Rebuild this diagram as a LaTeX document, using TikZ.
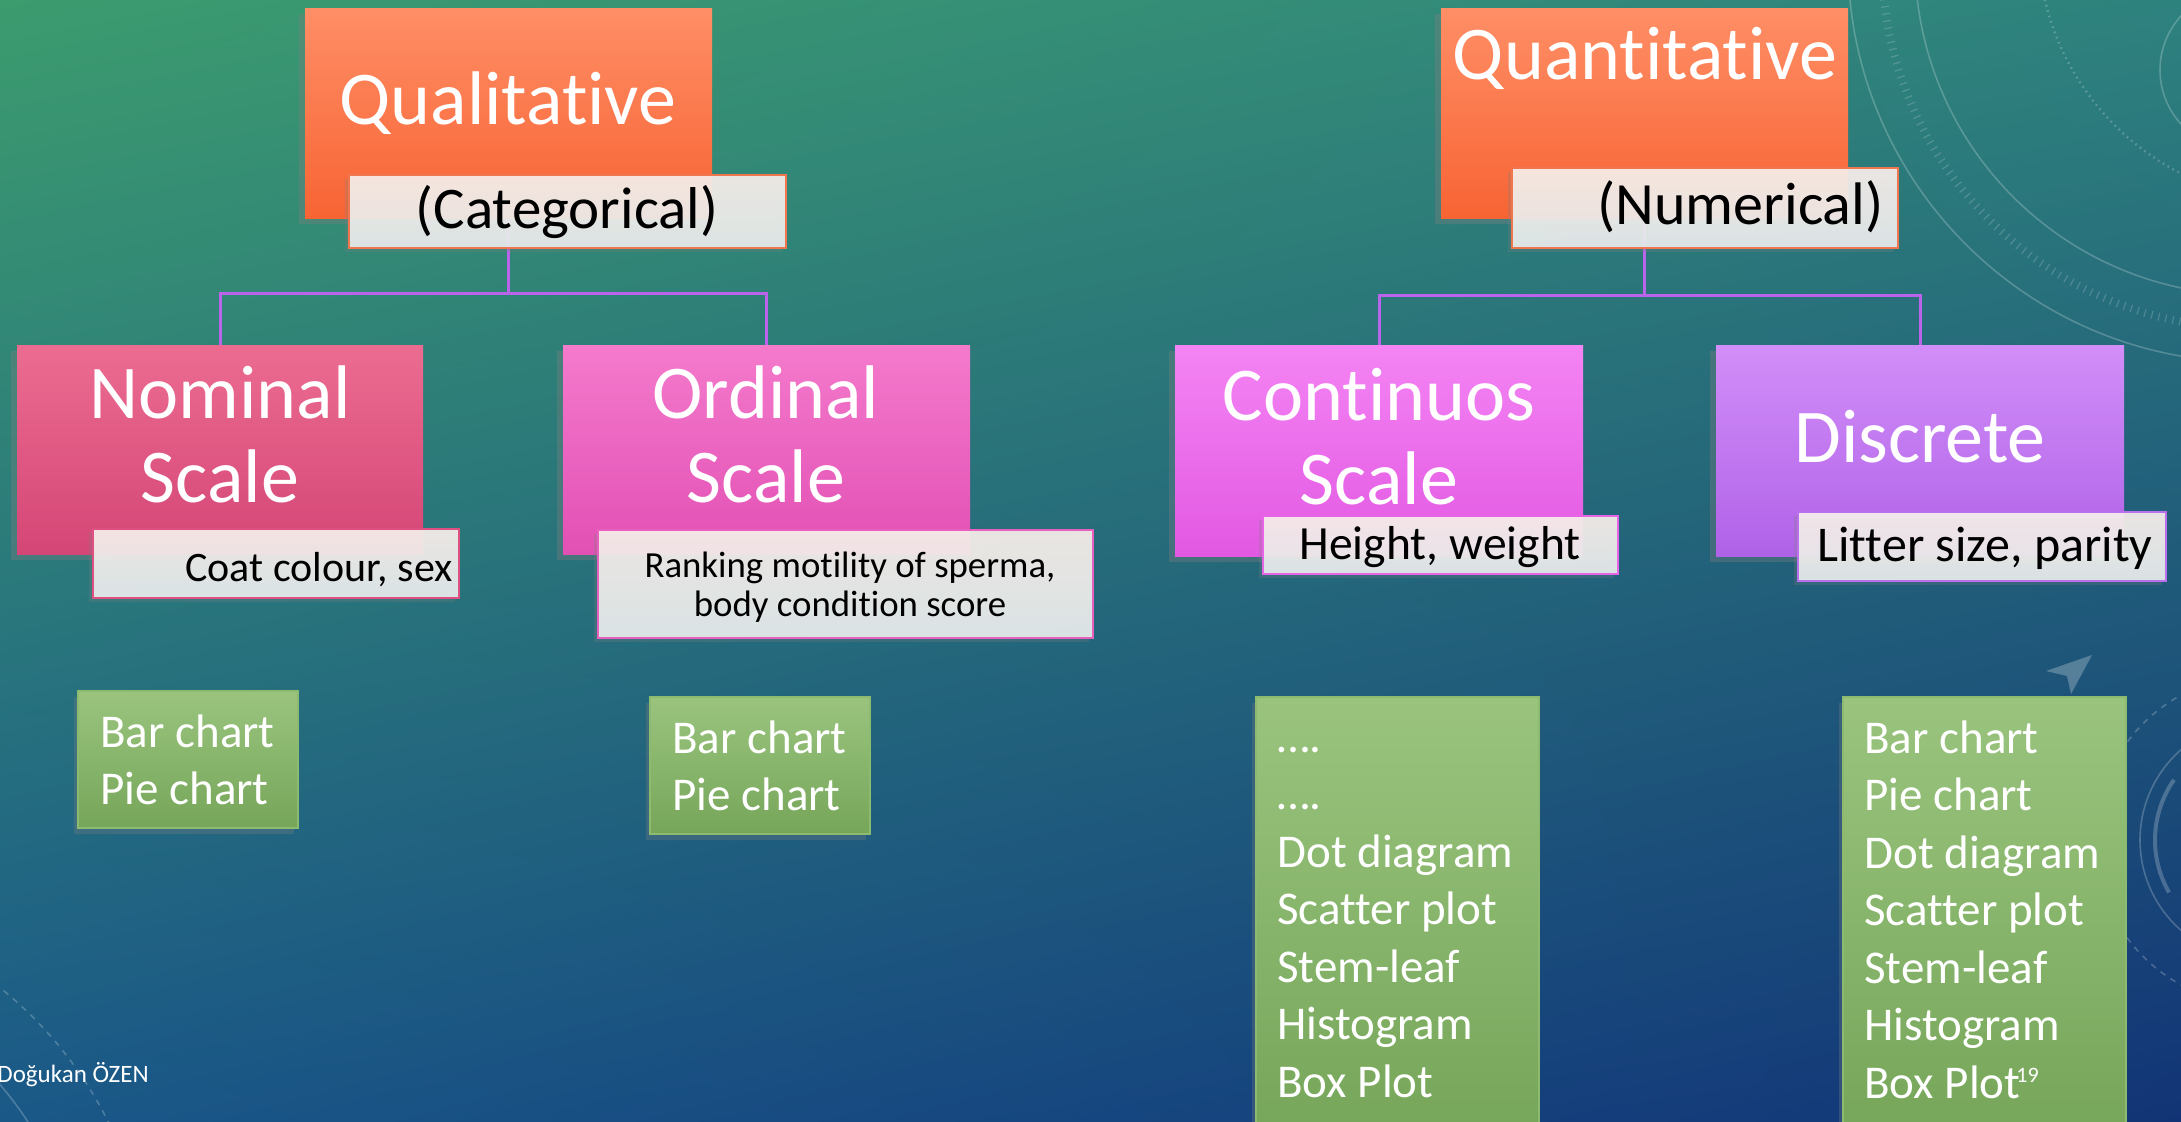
\documentclass[tikz,border=0pt]{standalone}
\usepackage{fontspec}
\setmainfont{Carlito}[Ligatures=NoCommon]
\usetikzlibrary{shadows,fit,shadings}
\pgfdeclarelayer{bg}
\pgfsetlayers{bg,main}
\definecolor{bgTL}{RGB}{60,156,110}
\definecolor{bgTR}{RGB}{46,130,126}
\definecolor{bgBL}{RGB}{26,88,136}
\definecolor{bgBR}{RGB}{18,52,118}
\definecolor{orTop}{RGB}{255,142,102}
\definecolor{orBot}{RGB}{247,100,52}
\definecolor{orLine}{RGB}{240,118,78}
\definecolor{nomTop}{RGB}{236,108,145}
\definecolor{nomBot}{RGB}{212,70,118}
\definecolor{nomLine}{RGB}{222,80,130}
\definecolor{ordTop}{RGB}{244,122,204}
\definecolor{ordBot}{RGB}{226,80,180}
\definecolor{ordLine}{RGB}{232,96,190}
\definecolor{conTop}{RGB}{244,132,244}
\definecolor{conBot}{RGB}{226,88,226}
\definecolor{conLine}{RGB}{230,100,230}
\definecolor{disTop}{RGB}{210,142,248}
\definecolor{disBot}{RGB}{176,98,232}
\definecolor{disLine}{RGB}{186,112,236}
\definecolor{grTop}{RGB}{154,196,126}
\definecolor{grBot}{RGB}{118,166,90}
\definecolor{grLine}{RGB}{140,186,110}
\definecolor{subTop}{RGB}{247,238,234}
\definecolor{subBot}{RGB}{231,236,236}
\definecolor{connC}{RGB}{185,100,235}
\begin{document}
\begin{tikzpicture}[x=0.5pt,y=-0.5pt,
  mainbox/.style={inner sep=0pt, outer sep=0pt,
     drop shadow={shadow xshift=-3pt,shadow yshift=-3pt,opacity=0.35}},
  subbox/.style={inner sep=0pt, outer sep=0pt, line width=1pt,
     top color=subTop, bottom color=subBot, fill opacity=0.93,
     drop shadow={shadow xshift=-2pt,shadow yshift=-2pt,opacity=0.25}},
  greenbox/.style={inner sep=0pt, outer sep=0pt, draw=grLine, line width=0.8pt,
     top color=grTop, bottom color=grBot,
     drop shadow={shadow xshift=-2pt,shadow yshift=-3pt,opacity=0.3}},
  conn/.style={draw=connC, line width=1.5pt},
  deco/.style={draw=white, opacity=0.22, line width=0.8pt},
  bigtxt/.style={text=white, inner sep=0pt, anchor=base,
     font=\fontsize{38}{42}\selectfont},
  midtxt/.style={text=black, inner sep=0pt, anchor=base,
     font=\fontsize{29.5}{34}\selectfont},
  listtxt/.style={text=white, inner sep=0pt, anchor=base west,
     font=\fontsize{23.5}{28.75}\selectfont},
  subtxt/.style={text=black, inner sep=0pt, anchor=base}
]
\useasboundingbox (0,0) rectangle (2181,1121);

% boxes
\node[mainbox, top color=orTop, bottom color=orBot, fit={(305,8) (712,218)}] (qual) {};
\node[subbox, draw=orLine, fit={(349,175) (786,248)}] (cat) {};
\node[mainbox, top color=nomTop, bottom color=nomBot, fit={(17,345) (423,554)}] (nom) {};
\node[subbox, draw=nomLine, fit={(93,529) (459,598)}] (coat) {};
\node[mainbox, top color=ordTop, bottom color=ordBot, fit={(563,345) (970,554)}] (ord) {};
\node[subbox, draw=ordLine, fit={(598,530) (1093,638)}] (rank) {};
\node[greenbox, fit={(78,691) (298,828)}] (g1) {};
\node[greenbox, fit={(650,697) (870,834)}] (g2) {};

\node[mainbox, top color=orTop, bottom color=orBot, fit={(1441,8) (1848,218)}] (quant) {};
\node[subbox, draw=orLine, fit={(1512,168) (1898,248)}] (num) {};
\node[mainbox, top color=conTop, bottom color=conBot, fit={(1175,345) (1583,556)}] (cont) {};
\node[subbox, draw=conLine, fit={(1263,516) (1618,574)}] (hw) {};
\node[mainbox, top color=disTop, bottom color=disBot, fit={(1716,345) (2124,556)}] (disc) {};
\node[subbox, draw=disLine, fit={(1798,512) (2166,581)}] (lit) {};
\node[greenbox, fit={(1256,697) (1539,1135)}] (g3) {};
\node[greenbox, fit={(1843,697) (2126,1135)}] (g4) {};

% texts
\node[bigtxt] (tqual) at (508,124) {Qualitative};
\node[midtxt] (tcat) at (567,228) {(Categorical)};
\node[bigtxt] (tnom) at (220,418) {\begin{tabular}[t]{@{}c@{}}Nominal\\Scale\end{tabular}};
\node[bigtxt] (tord) at (766,418) {\begin{tabular}[t]{@{}c@{}}Ordinal\\Scale\end{tabular}};
\node[subtxt, anchor=base east, font=\fontsize{21}{25}\selectfont] (tcoat) at (453,581) {Coat colour, sex};
\node[subtxt, font=\fontsize{18.4}{19.5}\selectfont] (trank) at (850,577)
  {\begin{tabular}[t]{@{}c@{}}Ranking motility of sperma,\\body condition score\end{tabular}};
\node[listtxt] (tg1) at (100,747) {\begin{tabular}[t]{@{}l@{}}Bar chart\\Pie chart\end{tabular}};
\node[listtxt] (tg2) at (672,753) {\begin{tabular}[t]{@{}l@{}}Bar chart\\Pie chart\end{tabular}};

\node[bigtxt] (tquant) at (1645,79) {Quantitative};
\node[midtxt, anchor=base east, font=\fontsize{30}{34}\selectfont] (tnum) at (1884,224) {(Numerical)};
\node[bigtxt] (tcont) at (1379,420) {\begin{tabular}[t]{@{}c@{}}Continuos\\Scale\end{tabular}};
\node[bigtxt] (tdisc) at (1920,462) {Discrete};
\node[subtxt, font=\fontsize{23.8}{28}\selectfont] (thw) at (1440,559) {Height, weight};
\node[subtxt, font=\fontsize{25}{29}\selectfont] (tlit) at (1985,561) {Litter size, parity};
\node[listtxt] (tg3) at (1277,752) {\begin{tabular}[t]{@{}l@{}}….\\….\\Dot diagram\\Scatter plot\\Stem-leaf\\Histogram\\Box Plot\end{tabular}};
\node[listtxt] (tg4) at (1864,753) {\begin{tabular}[t]{@{}l@{}}Bar chart\\Pie chart\\Dot diagram\\Scatter plot\\Stem-leaf\\Histogram\\Box Plot\end{tabular}};
\node[text=white, inner sep=0pt, anchor=base west, font=\fontsize{11}{13}\selectfont] (pnum) at (2016,1082) {19};
\node[text=white, inner sep=0pt, anchor=base west, font=\fontsize{12.5}{15}\selectfont] (author) at (-3,1082) {Doğukan ÖZEN};

\begin{pgfonlayer}{bg}
  \shade[upper left=bgTL, upper right=bgTR, lower left=bgBL, lower right=bgBR] (0,0) rectangle (2181,1121);
  % decorations
  \begin{scope}
    \clip (0,0) rectangle (2181,1121);
    \draw[deco] (2250,-40) circle (402);
    \draw[deco] (2250,-40) circle (335);
    \draw[deco, opacity=0.18, line width=4pt, dash pattern=on 0.6pt off 3pt] (2250,-40) circle (368);
    \draw[deco, dotted, line width=1.2pt] (2300,-60) circle (262);
    \draw[deco] (2240,70) circle (80);
    \draw[deco] (2260,840) circle (120);
    \draw[deco, line width=2pt] (2260,840) ++(150:105) arc[start angle=150, end angle=215, radius=105];
    \draw[deco, dashed] (2260,840) circle (165);
    \fill[white, opacity=0.25] (2092,655) -- (2046,671) -- (2067,676) -- (2071,694) -- cycle;
    \draw[deco, dashed] (-250,1300) circle (400);
    \draw[deco] (-250,1300) circle (330);
  \end{scope}
  % connectors
  \draw[conn] (qual.south) -- ++(0,75) -| (nom.north);
  \draw[conn] (qual.south) -- ++(0,75) -| (ord.north);
  \draw[conn] (quant.south) -- ++(0,77) -| (cont.north);
  \draw[conn] (quant.south) -- ++(0,77) -| (disc.north);
\end{pgfonlayer}
\end{tikzpicture}
\end{document}
